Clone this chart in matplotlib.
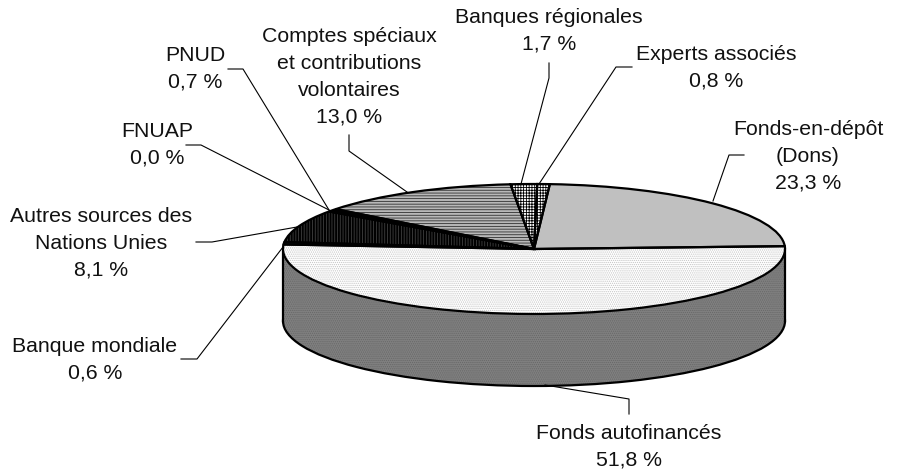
# Budget sources pie, flat 3D look
import matplotlib
matplotlib.use('Agg')
import matplotlib.pyplot as plt
from matplotlib.patches import Rectangle

plt.rcParams['font.family'] = ['Liberation Sans', 'DejaVu Sans']
plt.rcParams['hatch.linewidth'] = 0.6

# values, counter-clockwise from the right edge
sources = ['Fonds-en-dépôt\n(Dons)', 'Experts associés', 'Banques régionales',
           'Comptes spéciaux\net contributions\nvolontaires', 'PNUD', 'FNUAP',
           'Autres sources des\nNations Unies', 'Banque mondiale', 'Fonds autofinancés']
shares = [23.3, 0.8, 1.7, 13.0, 0.7, 0.0, 8.1, 0.6, 51.8]
share_labels = ['23,3 %', '0,8 %', '1,7 %', '13,0 %', '0,7 %', '0,0 %', '8,1 %', '0,6 %', '51,8 %']

# wedge styles (face, hatch colour, hatch)
faces = ['#c0c0c0', '#ffffff', '#ffffff', '#b8b8b8', '#000000', '#000000', '#000000', '#304848', '#ffffff']
hatch_cols = ['#c0c0c0', '#000000', '#000000', '#303030', '#000000', '#000000', '#404040', '#304848', '#c4c4c4']
hatches = [None, '++++++', '++++++', '------', None, None, '||||||', None, '........']

# pixel layout of the ellipse
CX, CY, RX, RY, DEPTH = 534, 249, 251, 65, 72
W, H = 900, 474
START = 2.5

fig = plt.figure(figsize=(W / 100, H / 100), dpi=100)
ax = fig.add_axes([0, 0, 1, 1])

# side wall: lower disc, then a band that hides its back half
wall_kw = dict(facecolor='#808080', edgecolor='#686868', hatch='........', linewidth=0)
ax.pie([1], center=(0, -DEPTH / RY), radius=1, startangle=90, wedgeprops=wall_kw)
ax.pie([1], center=(0, -DEPTH / RY), radius=1, startangle=90, colors=['none'],
       wedgeprops=dict(edgecolor='black', linewidth=1.6))
band = Rectangle((-1, -DEPTH / RY), 2, DEPTH / RY, zorder=3, **wall_kw)
ax.add_patch(band)
ax.plot([-1, -1], [0, -DEPTH / RY], color='black', lw=1.6, zorder=3)
ax.plot([1, 1], [0, -DEPTH / RY], color='black', lw=1.6, zorder=3)

# top disc: hatched fill first, black outline after
fills, _ = ax.pie(shares, startangle=START, radius=1, normalize=True)
for w, f, hc, ht in zip(fills, faces, hatch_cols, hatches):
    w.set_facecolor(f)
    w.set_edgecolor(hc)
    w.set_hatch(ht)
    w.set_linewidth(0)
    w.set_zorder(4)
outl, _ = ax.pie(shares, startangle=START, radius=1, colors=['none'] * len(shares),
                 wedgeprops=dict(edgecolor='black', linewidth=1.6))
for w in outl:
    w.set_zorder(5)

ax.set_aspect('auto')
ax.set_xlim(-CX / RX, (W - CX) / RX)
ax.set_ylim((CY - H) / RY, CY / RY)
ax.axis('off')

# labels and leader lines in pixel coords
ov = fig.add_axes([0, 0, 1, 1], facecolor='none')
ov.set_xlim(0, W)
ov.set_ylim(H, 0)
ov.axis('off')

label_xy = [(808, 156), (716, 68), (549, 31), (349, 77), (195, 69), (157, 145),
            (101, 243), (95, 360), (629, 447)]
leaders = [
    [(744, 155), (729, 155), (713, 201)],
    [(632, 67), (616, 67), (539, 184)],
    [(549, 63), (549, 78), (521, 184)],
    [(349, 135), (349, 151), (407, 192)],
    [(228, 69), (243, 69), (329, 210)],
    [(186, 145), (201, 145), (329, 210)],
    [(196, 242), (212, 242), (297, 227)],
    [(181, 359), (197, 359), (283, 247)],
    [(629, 414), (629, 399), (545, 385)],
]

for name, pct, (x, y), pts in zip(sources, share_labels, label_xy, leaders):
    ov.text(x, y, name + '\n' + pct, ha='center', va='center', fontsize=15.3,
            linespacing=1.53, color='#111111')
    ov.plot([p[0] for p in pts], [p[1] for p in pts], color='black', lw=0.8)

fig.savefig('out.png', dpi=100)
